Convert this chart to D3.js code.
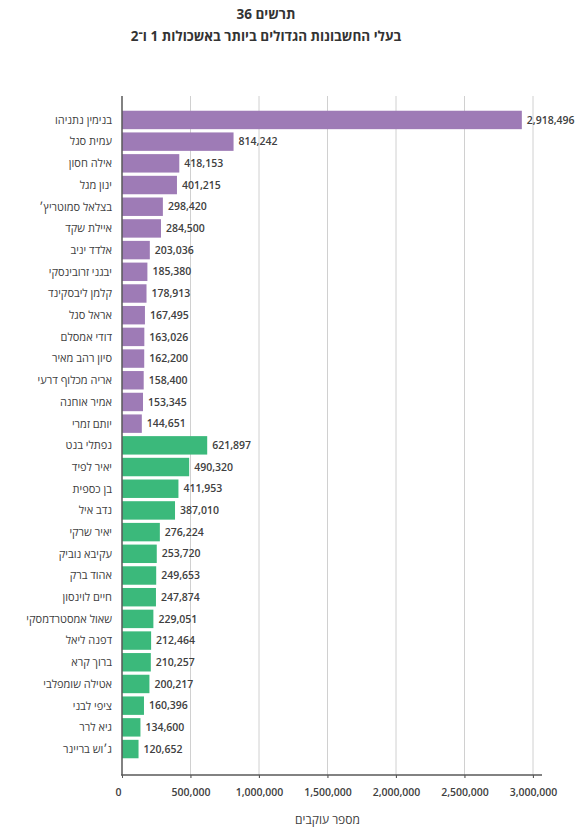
<!DOCTYPE html>
<html>
<head>
<meta charset="utf-8">
<script src="https://cdn.jsdelivr.net/npm/d3@7"></script>
<style>
  body { margin: 0; background: #fff; }
  svg { display: block; font-family: "Open Sans", "Liberation Sans", "DejaVu Sans", sans-serif; }
</style>
</head>
<body>
<div id="chart"></div>
<script>
// names top to bottom, cluster 1 (purple) then cluster 2 (green)
const names = [
  "בנימין נתניהו", "עמית סגל", "אילה חסון", "ינון מגל", "בצלאל סמוטריץ׳",
  "איילת שקד", "אלדד יניב", "יבגני זרובינסקי", "קלמן ליבסקינד", "אראל סגל",
  "דודי אמסלם", "סיון רהב מאיר", "אריה מכלוף דרעי", "אמיר אוחנה", "יותם זמרי",
  "נפתלי בנט", "יאיר לפיד", "בן כספית", "נדב איל", "יאיר שרקי",
  "עקיבא נוביק", "אהוד ברק", "חיים לוינסון", "שאול אמסטרדמסקי", "דפנה ליאל",
  "ברוך קרא", "אטילה שומפלבי", "ציפי לבני", "גיא לרר", "ג׳וש בריינר"
];
const followers = [
  2918496, 814242, 418153, 401215, 298420,
  284500, 203036, 185380, 178913, 167495,
  163026, 162200, 158400, 153345, 144651,
  621897, 490320, 411953, 387010, 276224,
  253720, 249653, 247874, 229051, 212464,
  210257, 200217, 160396, 134600, 120652
];
const clusters = [
  1, 1, 1, 1, 1, 1, 1, 1, 1, 1, 1, 1, 1, 1, 1,
  2, 2, 2, 2, 2, 2, 2, 2, 2, 2, 2, 2, 2, 2, 2
];
const xTicks = [0, 500000, 1000000, 1500000, 2000000, 2500000, 3000000];
const titleLines = ["תרשים 36", "בעלי החשבונות הגדולים ביותר באשכולות 1 ו־2"];
const xTitle = "מספר עוקבים";

const data = names.map((n, i) => ({ name: n, value: followers[i], cluster: clusters[i] }));

const width = 583, height = 839;
const textColor = "#404040";
const clusterColor = { 1: "#9e7bb6", 2: "#3bb97b" };

const svg = d3.select("#chart").append("svg")
  .attr("width", width)
  .attr("height", height);

const x = d3.scaleLinear().domain([0, 3000000]).range([122, 533]);
const y = d3.scaleBand()
  .domain(names)
  .range([109, 760])
  .paddingInner(0.15)
  .paddingOuter(0.08);

const axisY = 775, axisTop = 96;

// gridlines
svg.append("g")
  .selectAll("line")
  .data(xTicks.slice(1))
  .join("line")
  .attr("x1", d => x(d)).attr("x2", d => x(d))
  .attr("y1", axisTop).attr("y2", axisY + 3)
  .attr("stroke", "#d0d0d0")
  .attr("stroke-width", 1);

// bars
svg.append("g")
  .selectAll("rect")
  .data(data)
  .join("rect")
  .attr("x", x(0))
  .attr("y", d => y(d.name))
  .attr("width", d => x(d.value) - x(0))
  .attr("height", y.bandwidth())
  .attr("fill", d => clusterColor[d.cluster]);

// value labels
svg.append("g")
  .selectAll("text")
  .data(data)
  .join("text")
  .attr("x", d => x(d.value) + 5)
  .attr("y", d => y(d.name) + y.bandwidth() / 2)
  .attr("dy", "0.35em")
  .attr("fill", textColor)
  .style("font-size", "10.5px")
  .style("font-weight", 600)
  .text(d => d3.format(",")(d.value));

// category labels
svg.append("g")
  .selectAll("text")
  .data(data)
  .join("text")
  .attr("x", 112)
  .attr("y", d => y(d.name) + y.bandwidth() / 2)
  .attr("dy", "0.35em")
  .attr("text-anchor", "end")
  .attr("fill", textColor)
  .style("font-size", "11px")
  .text(d => d.name);

// axes lines
svg.append("line")
  .attr("x1", x(0)).attr("x2", x(0))
  .attr("y1", axisTop).attr("y2", axisY)
  .attr("stroke", "#595959").attr("stroke-width", 1.5);

const xAxis = d3.axisBottom(x)
  .tickValues(xTicks)
  .tickSize(3)
  .tickPadding(11)
  .tickFormat(d3.format(","));

const gx = svg.append("g")
  .attr("transform", `translate(0,${axisY})`)
  .call(xAxis);
gx.select(".domain").remove();
gx.selectAll(".tick line").attr("stroke", "#595959");
gx.selectAll(".tick text")
  .attr("fill", textColor)
  .style("font-size", "10.5px")
  .style("font-weight", 600);
gx.attr("font-family", null);
gx.selectAll(".tick").filter(d => d === 0).select("text").attr("dx", "-4");

svg.append("line")
  .attr("x1", x(0) - 1).attr("x2", 542)
  .attr("y1", axisY).attr("y2", axisY)
  .attr("stroke", "#595959").attr("stroke-width", 1.5);

// axis title
svg.append("text")
  .attr("x", (x(0) + x(3000000)) / 2)
  .attr("y", 824)
  .attr("text-anchor", "middle")
  .attr("fill", textColor)
  .style("font-size", "12px")
  .text(xTitle);

// titles
svg.append("g")
  .selectAll("text")
  .data(titleLines)
  .join("text")
  .attr("x", 266)
  .attr("y", (d, i) => 19 + i * 22)
  .attr("text-anchor", "middle")
  .attr("fill", "#333")
  .style("font-size", "13.5px")
  .style("font-weight", "bold")
  .text(d => d);
</script>
</body>
</html>
